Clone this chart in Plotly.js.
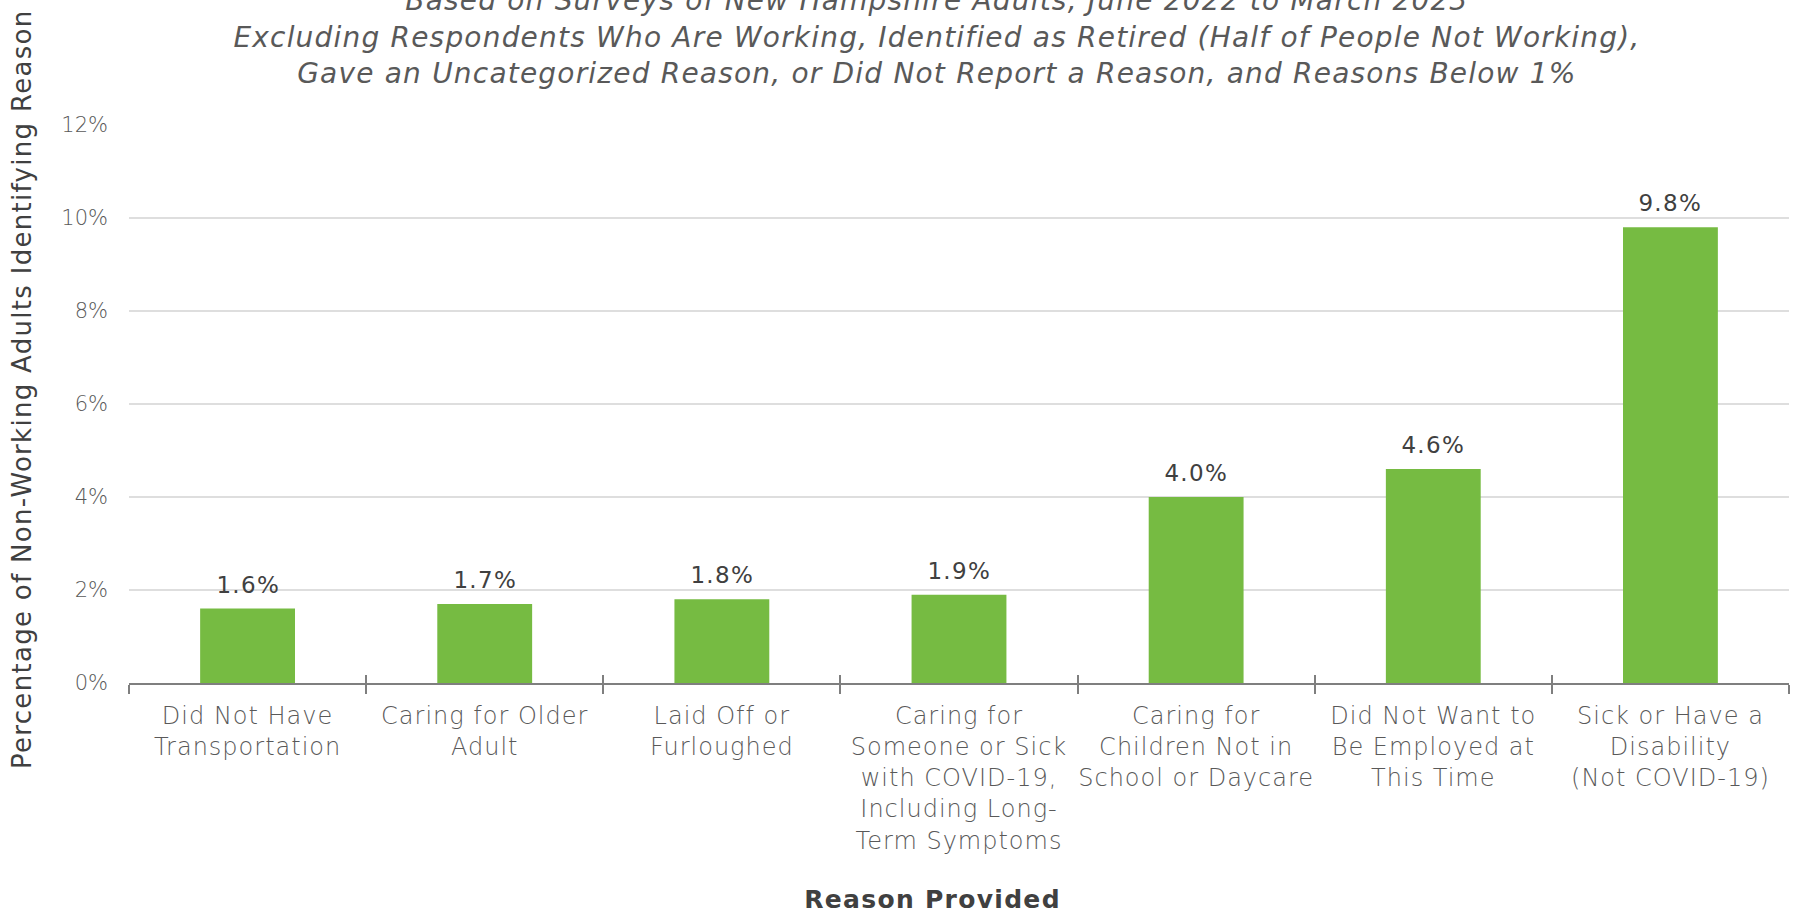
<!DOCTYPE html>
<html>
<head>
<meta charset="utf-8">
<script src="https://cdn.plot.ly/plotly-3.0.1.min.js"></script>
<style>
  html, body { margin: 0; padding: 0; background: #ffffff; }
  #chart { width: 1796px; height: 914px; }
  #chart text.gtitle { letter-spacing: 1.2px; }
  #chart g.xtick text { letter-spacing: 1px; }
  #chart g.annotation text { letter-spacing: 1.3px; }
</style>
</head>
<body>
<div id="chart"></div>
<script>
const categories = [
  "Did Not Have<br>Transportation",
  "Caring for Older<br>Adult",
  "Laid Off or<br>Furloughed",
  "Caring for<br>Someone or Sick<br>with COVID-19,<br>Including Long-<br>Term Symptoms",
  "Caring for<br>Children Not in<br>School or Daycare",
  "Did Not Want to<br>Be Employed at<br>This Time",
  "Sick or Have a<br>Disability<br>(Not COVID-19)"
];
const values = [1.6, 1.7, 1.8, 1.9, 4.0, 4.6, 9.8];
const valueLabels = ["1.6%", "1.7%", "1.8%", "1.9%", "4.0%", "4.6%", "9.8%"];
const yTickVals = [0, 2, 4, 6, 8, 10, 12];
const yTickText = ["0%", "2%", "4%", "6%", "8%", "10%", "12%"];

const titleLines = [
  "Based on Surveys of New Hampshire Adults, June 2022 to March 2023",
  "Excluding Respondents Who Are Working, Identified as Retired (Half of People Not Working),",
  "Gave an Uncategorized Reason, or Did Not Report a Reason, and Reasons Below 1%"
];
const yTitle = "Percentage of Non-Working Adults Identifying Reason";
const xTitle = "Reason Provided";

const FONT = "DejaVu Sans, Lato, sans-serif";

const traces = [
  {
    type: "bar",
    x: categories,
    y: values,
    marker: { color: "#76bb42" },
    hoverinfo: "skip",
    showlegend: false
  },
  {
    type: "bar",
    x: categories,
    y: values,
    xaxis: "x2",
    marker: { color: "rgba(0,0,0,0)" },
    hoverinfo: "skip",
    showlegend: false
  }
];

const annotations = categories.map((c, i) => ({
  x: c, y: values[i], xref: "x", yref: "y",
  text: valueLabels[i], showarrow: false,
  xanchor: "center", yanchor: "bottom", yshift: 9,
  font: { family: FONT, size: 23, color: "#404040" }
}));

annotations.push({
  xref: "paper", yref: "paper", x: -0.0645, y: 0.527,
  text: yTitle, textangle: -90, showarrow: false,
  xanchor: "center", yanchor: "middle",
  font: { family: FONT, size: 26, color: "#404040" }
});
annotations.push({
  xref: "paper", yref: "paper", x: 0.484, y: -0.388,
  text: xTitle, showarrow: false,
  xanchor: "center", yanchor: "middle",
  font: { family: FONT, size: 25, color: "#404040", weight: "bold" }
});

const layout = {
  width: 1796, height: 914,
  margin: { l: 129, r: 7, t: 125, b: 231 },
  paper_bgcolor: "#ffffff", plot_bgcolor: "#ffffff",
  bargap: 0.6,
  title: {
    text: titleLines.join("<br>"),
    x: 0.4867, xref: "paper", xanchor: "center",
    y: 0.9886, yref: "container", yanchor: "middle",
    font: { family: FONT, size: 28, color: "#595959", style: "italic", weight: 300 }
  },
  xaxis: {
    type: "category",
    showgrid: false, zeroline: false,
    showline: true, linecolor: "#7f7f7f", linewidth: 2,
    ticks: "outside", tickson: "boundaries", ticklen: 9, tickwidth: 2, tickcolor: "#7f7f7f",
    ticklabelstandoff: 10,
    tickfont: { family: FONT, size: 24, color: "#595959", weight: 300 },
    fixedrange: true
  },
  xaxis2: {
    type: "category", overlaying: "x", matches: "x", anchor: "y",
    showgrid: false, zeroline: false, showline: false,
    ticks: "inside", tickson: "boundaries", ticklen: 8, tickwidth: 2, tickcolor: "#7f7f7f",
    showticklabels: false, fixedrange: true
  },
  yaxis: {
    range: [0, 12],
    tickvals: yTickVals, ticktext: yTickText,
    showgrid: true, gridcolor: "#dedede", gridwidth: 2,
    zeroline: false, showline: false, ticks: "",
    ticklabelstandoff: 20,
    tickfont: { family: FONT, size: 21, color: "#595959", weight: 300 },
    fixedrange: true
  },
  annotations: annotations
};

Plotly.newPlot("chart", traces, layout, { displayModeBar: false, staticPlot: true });
</script>
</body>
</html>
